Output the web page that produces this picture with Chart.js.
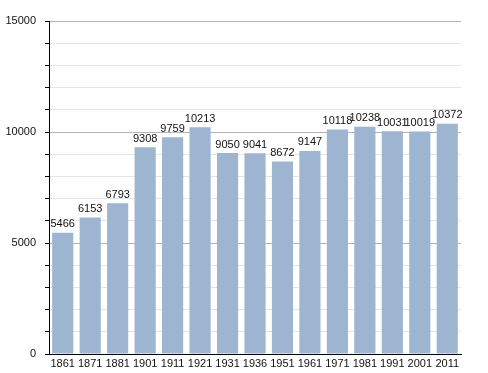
<!DOCTYPE html>
<html>
<head>
<meta charset="utf-8">
<script src="https://cdn.jsdelivr.net/npm/chart.js@4/dist/chart.umd.min.js"></script>
<style>
  html, body { margin: 0; padding: 0; background: #fff; }
  #wrap { width: 488px; height: 373px; }
</style>
</head>
<body>
<div id="wrap"><canvas id="popChart" width="488" height="373"></canvas></div>
<script>
const annees = ['1861', '1871', '1881', '1901', '1911', '1921', '1931', '1936', '1951', '1961', '1971', '1981', '1991', '2001', '2011'];
const population = [5466, 6153, 6793, 9308, 9759, 10213, 9050, 9041, 8672, 9147, 10118, 10238, 10031, 10019, 10372];
const yMax = 15000;
const yStep = 1000;
const yMajor = 5000;

// etiquettes au-dessus des barres
const valeursPlugin = {
  id: 'valeurs',
  afterDatasetsDraw(chart) {
    const ctx = chart.ctx;
    const meta = chart.getDatasetMeta(0);
    ctx.save();
    ctx.font = '11px "Liberation Sans", Arial, sans-serif';
    ctx.fillStyle = '#111';
    ctx.textAlign = 'center';
    ctx.textBaseline = 'bottom';
    meta.data.forEach((bar, i) => {
      ctx.fillText(population[i], bar.x, bar.y - 3);
    });
    ctx.restore();
  }
};

const ctx = document.getElementById('popChart').getContext('2d');
new Chart(ctx, {
  type: 'bar',
  data: {
    labels: annees,
    datasets: [{
      data: population,
      backgroundColor: 'rgb(157, 181, 208)',
      borderWidth: 0,
      barPercentage: 0.77,
      categoryPercentage: 1
    }]
  },
  options: {
    responsive: false,
    animation: false,
    layout: { padding: { top: 21, right: 27, left: 0, bottom: 0 } },
    plugins: {
      legend: { display: false },
      tooltip: { enabled: false }
    },
    scales: {
      x: {
        grid: { display: false, drawTicks: false },
        border: { display: true, color: '#000', width: 1 },
        ticks: {
          color: '#111',
          font: { family: '"Liberation Sans", Arial, sans-serif', size: 11 },
          padding: 3,
          maxRotation: 0,
          autoSkip: false
        },
        afterFit: (scale) => { scale.height = 19; }
      },
      y: {
        min: 0,
        max: yMax,
        border: { display: true, color: '#000', width: 1 },
        grid: {
          color: (c) => (c.tick && c.tick.value % yMajor === 0) ? '#b4b4b4' : '#e4e4e4',
          tickColor: '#000',
          tickLength: 4,
          drawTicks: true
        },
        ticks: {
          stepSize: yStep,
          color: '#111',
          padding: 9,
          font: { family: '"Liberation Sans", Arial, sans-serif', size: 11 },
          callback: (v) => (v % yMajor === 0 ? String(v) : '')
        },
        afterFit: (scale) => { scale.width = 49; }
      }
    }
  },
  plugins: [valeursPlugin]
});
</script>
</body>
</html>
